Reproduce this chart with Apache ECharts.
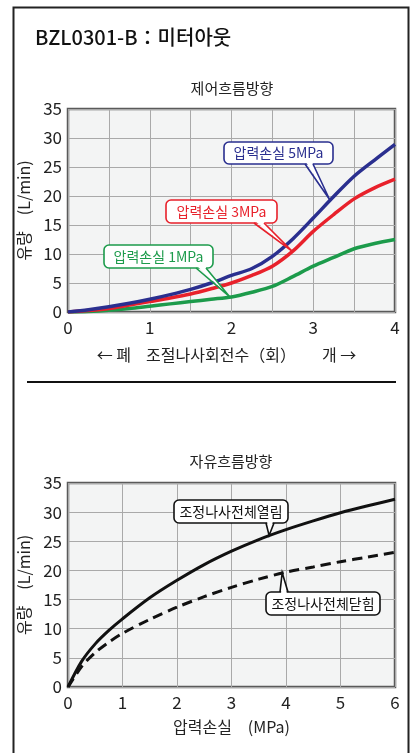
<!DOCTYPE html>
<html>
<head>
<meta charset="utf-8">
<script src="https://cdn.jsdelivr.net/npm/echarts@6/dist/echarts.min.js"></script>
<style>
  html, body { margin: 0; padding: 0; background: #fff; }
  #chart { width: 412px; height: 753px; }
</style>
</head>
<body>
<div id="chart"></div>
<script>
// Control-flow direction: flow vs. adjusting-screw turns
const turns = [0, 0.25, 0.5, 0.75, 1, 1.25, 1.5, 1.75, 2, 2.25, 2.5, 2.75, 3, 3.25, 3.5, 3.75, 4];
const flow5MPa = [0, 0.4, 0.9, 1.5, 2.2, 3.0, 3.9, 5.0, 6.3, 7.5, 9.6, 12.6, 16.2, 19.9, 23.4, 26.2, 28.9];
const flow3MPa = [0, 0.25, 0.6, 1.2, 1.8, 2.4, 3.1, 4.0, 5.0, 6.3, 7.9, 10.5, 13.9, 16.8, 19.5, 21.4, 22.9];
const flow1MPa = [0, 0.1, 0.3, 0.6, 1.0, 1.4, 1.8, 2.2, 2.6, 3.4, 4.4, 6.1, 7.9, 9.4, 10.9, 11.8, 12.5];

// Free-flow direction: flow vs. pressure loss
const pressure = [0, 0.25, 0.5, 0.75, 1, 1.5, 2, 2.5, 3, 3.5, 4, 4.5, 5, 5.5, 6];
const flowOpen = [0, 4.4, 7.4, 9.7, 11.7, 15.3, 18.3, 21.0, 23.3, 25.3, 27.0, 28.5, 29.9, 31.1, 32.2];
const flowClosed = [0, 3.5, 5.9, 7.7, 9.2, 11.6, 13.7, 15.5, 17.1, 18.5, 19.7, 20.6, 21.5, 22.3, 23.1];

const topXTicks = [0, 1, 2, 3, 4];
const bottomXTicks = [0, 1, 2, 3, 4, 5, 6];
const yTicks = [0, 5, 10, 15, 20, 25, 30, 35];

const seriesNames = ['압력손실 5MPa', '압력손실 3MPa', '압력손실 1MPa'];
const curveNames = ['조정나사전체열림', '조정나사전체닫힘'];

// Callout anchor points on the curves (data units)
const anchor5 = [3.2, 19.4];
const anchor3 = [2.74, 10.5];
const anchor1 = [1.98, 2.6];
const anchorOpen = [3.69, 26.0];
const anchorClosed = [3.93, 19.6];

const FONT = "'Noto Sans CJK KR', 'Noto Sans', sans-serif";
const NUMFONT = "'Liberation Sans Narrow', 'Noto Sans CJK KR', sans-serif";
const BLUE = '#2a2f8f', RED = '#e8212b', GREEN = '#1c9b4b';

const zip = (xs, ys) => xs.map((x, i) => [x, ys[i]]);

const chart = echarts.init(document.getElementById('chart'), null, { renderer: 'canvas' });

function xAxisCfg(gridIndex, max, interval, ticks, name, nameGap) {
  return {
    type: 'value', gridIndex, min: 0, max, interval,
    axisLine: { show: false }, axisTick: { show: false },
    axisLabel: {
      color: '#222', fontSize: 17, fontFamily: NUMFONT, margin: 7,
      formatter: v => (ticks.indexOf(v) >= 0 ? String(v) : '')
    },
    splitLine: { show: true, lineStyle: { color: '#a9a9a9', width: 1 } },
    name, nameLocation: 'middle', nameGap,
    nameTextStyle: { color: '#222', fontSize: 16, fontFamily: FONT }
  };
}
function yAxisCfg(gridIndex) {
  return {
    type: 'value', gridIndex, min: 0, max: 35, interval: 5,
    axisLine: { show: false }, axisTick: { show: false },
    axisLabel: { color: '#222', fontSize: 17, fontFamily: NUMFONT, margin: 6,
      formatter: v => (yTicks.indexOf(v) >= 0 ? String(v) : '') },
    splitLine: { show: true, lineStyle: { color: '#a9a9a9', width: 1 } },
    name: '유량　(L/min)', nameLocation: 'middle', nameRotate: 90, nameGap: 30,
    nameTextStyle: { color: '#222', fontSize: 16, fontFamily: FONT }
  };
}

const gridStyle = { show: true, backgroundColor: '#f3f4f4', borderColor: '#5a5a5a', borderWidth: 2.5 };
const curve = { type: 'line', smooth: 0.3, showSymbol: false };

chart.setOption({
  animation: false,
  grid: [
    Object.assign({ left: 68, top: 109, width: 327, height: 203 }, gridStyle),
    Object.assign({ left: 68, top: 483, width: 327, height: 204 }, gridStyle)
  ],
  xAxis: [
    xAxisCfg(0, 4, 0.5, topXTicks, '', 35),
    xAxisCfg(1, 6, 1, bottomXTicks, '압력손실　(MPa)', 32)
  ],
  yAxis: [yAxisCfg(0), yAxisCfg(1)],
  series: [
    Object.assign({ name: seriesNames[2], xAxisIndex: 0, yAxisIndex: 0, data: zip(turns, flow1MPa),
      lineStyle: { color: GREEN, width: 3.5 }, z: 3 }, curve),
    Object.assign({ name: seriesNames[1], xAxisIndex: 0, yAxisIndex: 0, data: zip(turns, flow3MPa),
      lineStyle: { color: RED, width: 3.5 }, z: 4 }, curve),
    Object.assign({ name: seriesNames[0], xAxisIndex: 0, yAxisIndex: 0, data: zip(turns, flow5MPa),
      lineStyle: { color: BLUE, width: 3.5 }, z: 5 }, curve),
    Object.assign({ name: curveNames[0], xAxisIndex: 1, yAxisIndex: 1, data: zip(pressure, flowOpen),
      lineStyle: { color: '#111', width: 3 }, z: 4 }, curve),
    Object.assign({ name: curveNames[1], xAxisIndex: 1, yAxisIndex: 1, data: zip(pressure, flowClosed),
      lineStyle: { color: '#111', width: 3, type: [10, 6] }, z: 4 }, curve)
  ]
});

// Callout: rounded box with a wedge pointer towards a point on a curve
function callout(box, baseX, tip, text, color, fromTop) {
  const [bx, by, bw, bh] = box;
  const edgeY = fromTop ? by : by + bh;
  const inner = fromTop ? edgeY + 2 : edgeY - 2;
  return [
    { type: 'rect', z: 50, shape: { x: bx, y: by, width: bw, height: bh, r: 5 },
      style: { fill: '#fff', stroke: color, lineWidth: 1.6 } },
    { type: 'polygon', z: 51, shape: { points: [[baseX[0] + 1, inner], [baseX[1] - 1, inner], tip] },
      style: { fill: '#fff', stroke: null } },
    { type: 'polyline', z: 52, shape: { points: [[baseX[0], edgeY], tip, [baseX[1], edgeY]] },
      style: { fill: null, stroke: color, lineWidth: 1.6 } },
    { type: 'text', z: 53, x: bx + bw / 2, y: by + bh / 2,
      style: { text, fill: color, font: '14px ' + FONT, align: 'center', verticalAlign: 'middle' } }
  ];
}

const px = (gi, p) => chart.convertToPixel({ gridIndex: gi }, p);

const textStyle = (text, size, align) => ({ text, fill: '#222', font: size + 'px ' + FONT,
  align, verticalAlign: 'middle' });

const graphics = [
  { type: 'rect', z: 0, shape: { x: 13.5, y: 7.5, width: 395, height: 770 },
    style: { fill: null, stroke: '#222', lineWidth: 2 } },
  { type: 'text', x: 35, y: 37, style: { text: 'BZL0301-B：미터아웃', fill: '#111',
      font: '500 20px ' + FONT, align: 'left', verticalAlign: 'middle' } },
  { type: 'text', x: 232, y: 88, style: textStyle('제어흐름방향', 15, 'center') },
  // turn-count axis title: closed ← … → open
  { type: 'text', x: 131, y: 355, style: textStyle('← 폐', 16, 'right') },
  { type: 'text', x: 221, y: 355, style: textStyle('조절나사회전수（회）', 16, 'center') },
  { type: 'text', x: 322, y: 355, style: textStyle('개 →', 16, 'left') },
  { type: 'line', shape: { x1: 27, y1: 382, x2: 396, y2: 382 }, style: { stroke: '#111', lineWidth: 2 } },
  { type: 'text', x: 231, y: 461, style: textStyle('자유흐름방향', 15, 'center') }
]
  .concat(callout([224, 142, 109, 22], [305, 313], px(0, anchor5), seriesNames[0], BLUE, false))
  .concat(callout([166, 200, 111, 23], [254, 264], px(0, anchor3), seriesNames[1], RED, false))
  .concat(callout([104, 245, 109, 23], [196, 206], px(0, anchor1), seriesNames[2], GREEN, false))
  .concat(callout([174, 500, 114, 23], [266, 274], px(1, anchorOpen), curveNames[0], '#111', false))
  .concat(callout([266, 592, 114, 23], [280, 288], px(1, anchorClosed), curveNames[1], '#111', true));

chart.setOption({ graphic: graphics });
</script>
</body>
</html>
